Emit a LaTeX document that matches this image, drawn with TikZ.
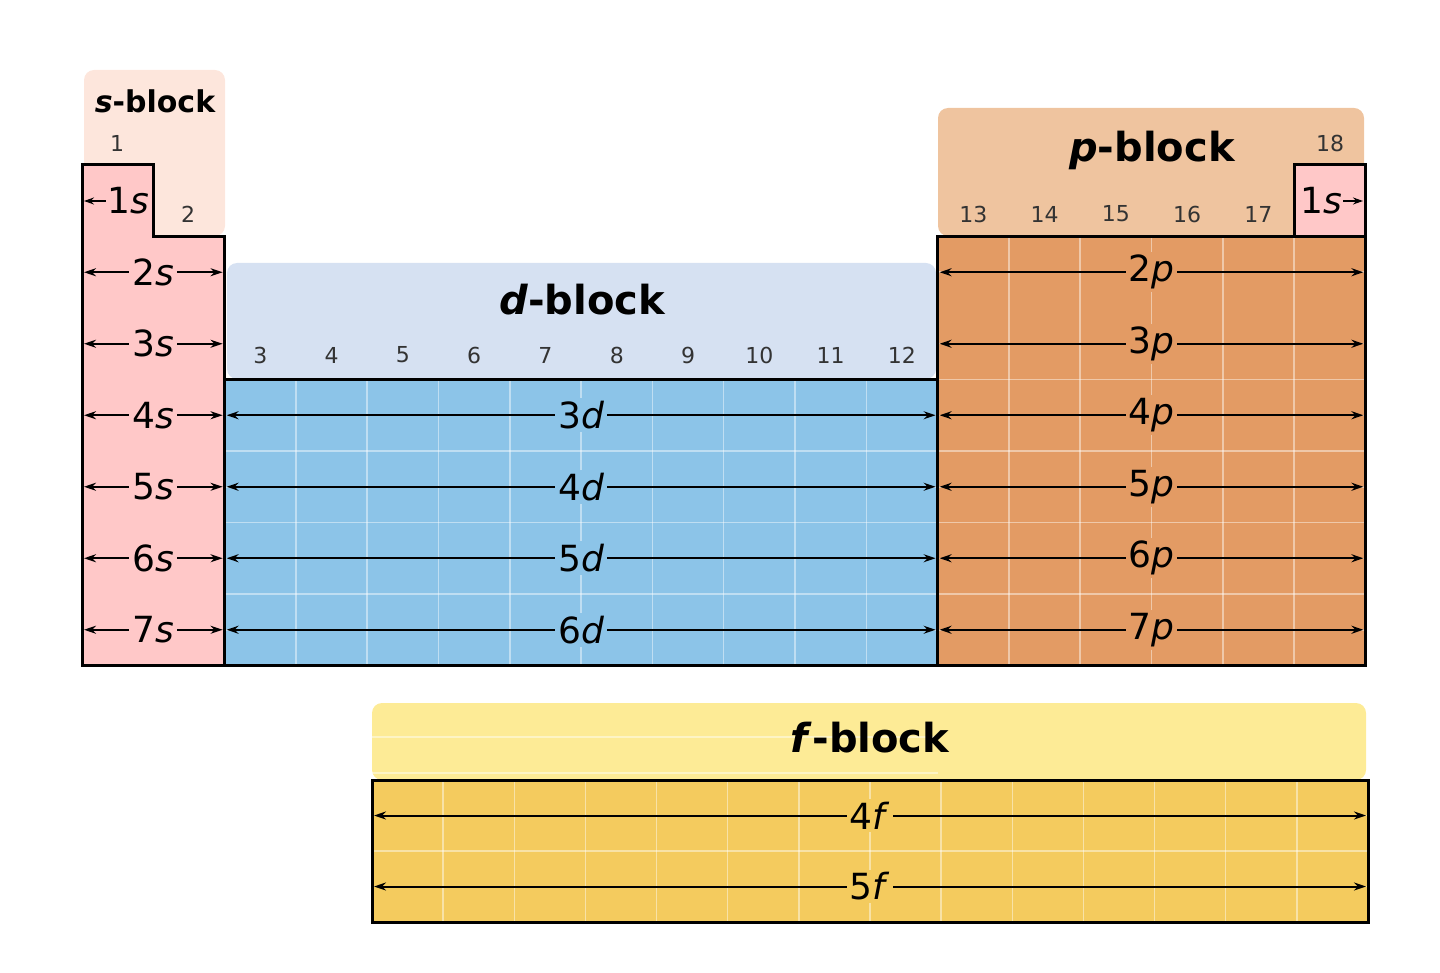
\documentclass[tikz,border=0pt]{standalone}
\usepackage{fontspec}
\setmainfont{DejaVu Sans}
\usetikzlibrary{arrows.meta}
\definecolor{scell}{HTML}{FFC8C8}
\definecolor{sback}{HTML}{FDE6DC}
\definecolor{dcell}{HTML}{8CC4E8}
\definecolor{dback}{HTML}{D6E1F2}
\definecolor{pcell}{HTML}{E39B64}
\definecolor{pback}{HTML}{EFC49F}
\definecolor{fcell}{HTML}{F4CB5E}
\definecolor{fback}{HTML}{FDEB96}
\tikzset{
  orbital/.style={line width=2pt, {Stealth[length=12pt,width=8pt]}-{Stealth[length=12pt,width=8pt]}},
  orblabel/.style={inner sep=3pt, font=\fontsize{36}{40}\selectfont},
  groupnum/.style={text=black!80, font=\fontsize{22}{24}\selectfont},
  blocktitle/.style={font=\bfseries\fontsize{40}{44}\selectfont},
  outline/.style={line width=3pt, line join=miter},
  gridline/.style={white, opacity=0.45, line width=1.5pt}
}
\def\cw{71.3}
\def\rh{71.5}
\begin{document}
\begin{tikzpicture}[x=1pt,y=-1pt]
\useasboundingbox (0,0) rectangle (1440,973);

% block backgrounds
\fill[sback, rounded corners=10pt] (84,70) rectangle (225,236);
\fill[pback, rounded corners=10pt] (938,108) rectangle (1364,236);
\fill[dback, rounded corners=10pt] (227,263) rectangle (936,379);
\fill[fback, rounded corners=10pt] (372,703) rectangle (1366,780);

% cells
\fill[scell] (82,165) -- ({82+\cw},165) -- ({82+\cw},236.5) -- ({82+2*\cw},236.5)
  -- ({82+2*\cw},665.5) -- (82,665.5) -- cycle;
\fill[dcell] ({82+2*\cw},379.5) rectangle ({82+12*\cw},665.5);
\fill[pcell] ({82+12*\cw},236.5) rectangle ({82+18*\cw},665.5);
\fill[scell] ({82+17*\cw},165) rectangle ({82+18*\cw},236.5);
\fill[fcell] (372,780) rectangle (1368,922);

% grid
\foreach \g in {3,...,17} \draw[gridline] ({82+\g*\cw},{\g<12 ? 379.5 : 236.5}) -- ({82+\g*\cw},665.5);
\foreach \r in {0.5,1,...,5.5} \draw[gridline] ({82+2*\cw},{379.5+\r*\rh}) -- ({82+12*\cw},{379.5+\r*\rh});
\foreach \r in {0.5,1,...,5.5} \draw[gridline] ({82+12*\cw},{236.5+\r*\rh+\rh}) -- ({82+18*\cw},{236.5+\r*\rh+\rh});
\draw[gridline] ({82+12*\cw},272) -- ({82+18*\cw},272);
\foreach \g in {1,...,13} \draw[gridline] ({372+\g*71.14},780) -- ({372+\g*71.14},922);
\foreach \y in {815.5,851,886.5} \draw[gridline] (372,\y) -- (1368,\y);

% outlines
\draw[outline] (82,165) -- ({82+\cw},165) -- ({82+\cw},236.5) -- ({82+2*\cw},236.5)
  -- ({82+2*\cw},665.5) -- (82,665.5) -- cycle;
\draw[outline] ({82+2*\cw},379.5) rectangle ({82+12*\cw},665.5);
\draw[outline] ({82+12*\cw},236.5) rectangle ({82+18*\cw},665.5);
\draw[outline] ({82+17*\cw},165) rectangle ({82+18*\cw},236.5);
\draw[outline] (372,780) rectangle (1368,922);

% block titles
\node[blocktitle, font=\bfseries\fontsize{30}{34}\selectfont] (stitle) at (155,101) {\textit{s}-block};
\node[blocktitle] (ptitle) at (1152,150) {\textit{p}-block};
\node[blocktitle] (dtitle) at (582,300) {\textit{d}-block};
\node[blocktitle] (ftitle) at (870,738) {\textit{f}-block};

% group numbers
\node[groupnum] (g1) at (117,143) {1};
\node[groupnum] (g2) at (188,214) {2};
\foreach \g in {3,...,12} \node[groupnum] (g\g) at ({82+(\g-0.5)*\cw},355) {\g};
\foreach \g in {13,...,17} \node[groupnum] (g\g) at ({82+(\g-0.5)*\cw},214) {\g};
\node[groupnum] (g18) at (1330,143) {18};

% 1s
\node[orblabel, inner sep=1pt] (hs) at (128,201) {1\textit{s}};
\draw[line width=2pt, -{Stealth[length=10pt,width=7pt]}] (hs.west) -- (84,201);
\node[orblabel, inner sep=1pt] (hes) at (1321,201) {1\textit{s}};
\draw[line width=2pt, -{Stealth[length=10pt,width=7pt]}] (hes.east) -- (1363,201);

% orbital rows
\foreach \n in {2,...,7} {
  \pgfmathsetmacro\yc{236.5+(\n-1.5)*\rh}
  \draw[orbital] (84,\yc) -- ({80+2*\cw},\yc) node[orblabel, midway, fill=scell] {\n\textit{s}};
  \draw[orbital] ({84+12*\cw},\yc) -- ({80+18*\cw},\yc) node[orblabel, midway, fill=pcell] {\n\textit{p}};
}
\foreach \n in {3,...,6} {
  \pgfmathsetmacro\yc{379.5+(\n-2.5)*\rh}
  \draw[orbital] ({84+2*\cw},\yc) -- ({80+12*\cw},\yc) node[orblabel, midway, fill=dcell] {\n\textit{d}};
}
\foreach \n/\yc in {4/815.5, 5/886.5}
  \draw[orbital] (374,\yc) -- (1366,\yc) node[orblabel, midway, fill=fcell] {\n\textit{f}};
\end{tikzpicture}
\end{document}
